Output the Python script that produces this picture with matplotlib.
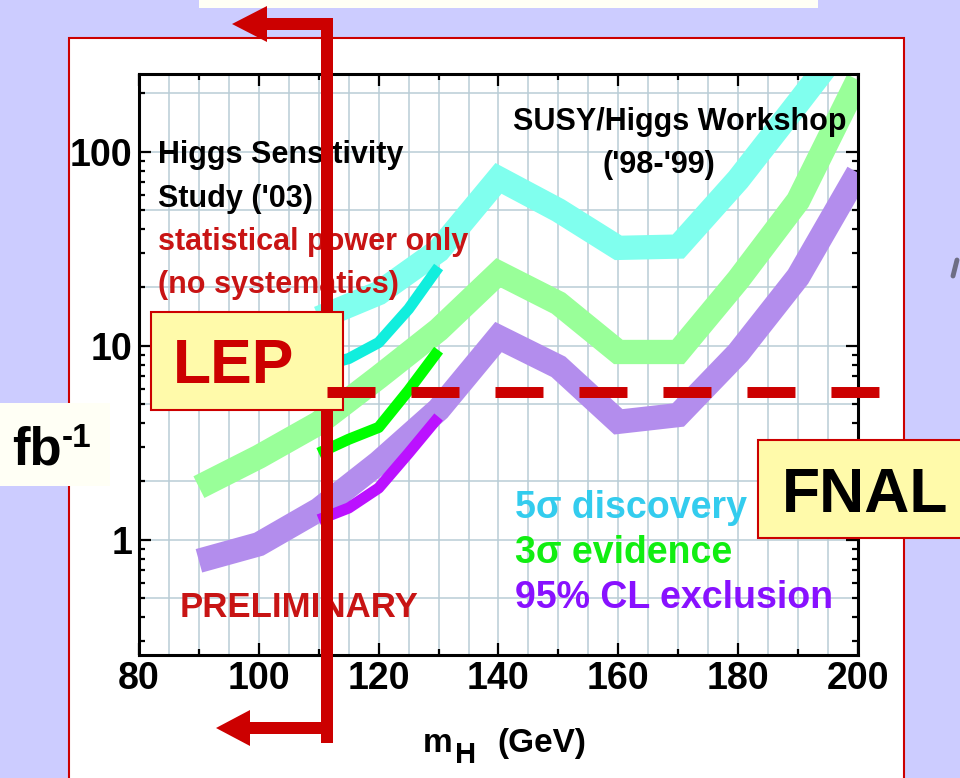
import numpy as np
import matplotlib
matplotlib.use("Agg")
import matplotlib.pyplot as plt
from matplotlib.patches import Rectangle, Polygon
from matplotlib.ticker import MultipleLocator, LogLocator, NullFormatter

plt.rcParams['font.family'] = ['Liberation Sans', 'DejaVu Sans']
plt.rcParams['font.weight'] = 'bold'

# SUSY/Higgs Workshop ('98-'99) luminosity needed, fb^-1
mass_98 = [90, 100, 110, 120, 130, 140, 150, 160, 170, 180, 190, 200]
excl_98 = [0.78, 0.95, 1.43, 2.5, 4.7, 11.1, 7.8, 4.06, 4.4, 9.2, 22.7, 78]
evid_98 = [1.87, 2.68, 4.0, 6.9, 12.1, 23.8, 16.6, 9.3, 9.3, 21.9, 56, 235]
mass_disc_98 = [110, 120, 130, 140, 150, 160, 170, 180, 190, 200]
disc_98 = [13.9, 18.7, 31, 73, 50, 32, 32.5, 72, 179, 450]

# Higgs Sensitivity Study ('03), statistical power only
mass_03 = [110, 115, 120, 125, 130]
disc_03 = [7.8, 8.6, 10.4, 15.5, 25.5]
evid_03 = [2.8, 3.3, 3.8, 5.9, 9.5]
excl_03 = [1.27, 1.46, 1.85, 2.8, 4.3]

x_ticks = [80, 100, 120, 140, 160, 180, 200]
x_labels = ['80', '100', '120', '140', '160', '180', '200']
y_ticks = [1, 10, 100]
y_labels = ['1', '10', '100']
grid_x = np.arange(85, 200, 5)
grid_y = [0.5, 1, 2, 5, 10, 20, 50, 100, 200]

LEP_LIMIT = 111.4   # GeV
FNAL_LUMI = 5.8     # fb^-1

W, H = 960, 778
RED = '#cc0000'

fig = plt.figure(figsize=(W / 100, H / 100), dpi=100)
fig.patch.set_facecolor('#ccccff')

# background panel (pixel coords)
bg = fig.add_axes([0, 0, 1, 1], zorder=0)
bg.set_xlim(0, W)
bg.set_ylim(H, 0)
bg.axis('off')
bg.add_patch(Rectangle((69, 38), 835, 760, facecolor='white', edgecolor=RED, lw=1.5))
bg.add_patch(Rectangle((199, -5), 619, 13, facecolor='#fffff5', edgecolor='none'))
bg.plot([953, 957], [276, 260], color='#555566', lw=3.5, alpha=0.8, solid_capstyle='round')

# main chart
ax = fig.add_axes([139 / W, 1 - 655 / H, 719 / W, (655 - 74) / H], zorder=1)
ax.set_facecolor('white')
ax.set_yscale('log')
ax.set_xlim(80, 200)
ax.set_ylim(0.255, 252)

ax.vlines(grid_x, 0.255, 252, color='#b9cdd6', lw=1.1, zorder=0)
ax.hlines(grid_y, 80, 200, color='#b9cdd6', lw=1.1, zorder=0)

band = dict(lw=17.5, solid_capstyle='butt', solid_joinstyle='miter', zorder=2)
ax.plot(mass_disc_98, disc_98, color='#80ffee', **band)
ax.plot(mass_98, evid_98, color='#99ff99', **band)
ax.plot(mass_98, excl_98, color='#b38ded', **band)

thin = dict(lw=8, solid_capstyle='butt', solid_joinstyle='round', zorder=3)
ax.plot(mass_03, disc_03, color='#11eedd', **thin)
ax.plot(mass_03, evid_03, color='#00ff00', **thin)
ax.plot(mass_03, excl_03, color='#bb11ff', **thin)

ax.set_xticks(x_ticks, x_labels)
ax.xaxis.set_minor_locator(MultipleLocator(10))
ax.set_yticks(y_ticks, y_labels)
ax.yaxis.set_minor_locator(LogLocator(base=10, subs=np.arange(2, 10)))
ax.yaxis.set_minor_formatter(NullFormatter())
ax.tick_params(which='both', direction='in', top=True, right=True, width=1.6, colors='black')
ax.tick_params(which='major', length=8.6)
ax.tick_params(which='minor', length=4.3)
ax.tick_params(axis='x', which='major', labelsize=27, pad=4)
ax.tick_params(axis='y', which='major', labelsize=27, pad=5)
for lab in ax.get_xticklabels() + ax.get_yticklabels():
    lab.set_fontweight('bold')
for sp in ax.spines.values():
    sp.set_linewidth(2.2)
    sp.set_color('black')

# overlay (pixel coords)
ov = fig.add_axes([0, 0, 1, 1], zorder=3)
ov.set_xlim(0, W)
ov.set_ylim(H, 0)
ov.axis('off')
ov.patch.set_alpha(0)

ov.text(158, 163, 'Higgs Sensitivity', fontsize=22, color='black', va='baseline')
ov.text(158, 207, "Study ('03)", fontsize=22, color='black', va='baseline')
ov.text(158, 250, 'statistical power only', fontsize=22, color='#c81414', va='baseline')
ov.text(158, 293, '(no systematics)', fontsize=22, color='#c81414', va='baseline')
ov.text(513, 130, 'SUSY/Higgs Workshop', fontsize=22, color='black', va='baseline')
ov.text(602, 173, "('98-'99)", fontsize=22, color='black', va='baseline')
ov.text(180, 617, 'PRELIMINARY', fontsize=25, color='#c81414', va='baseline')
ov.text(515, 518, '5σ discovery', fontsize=27, color='#33ccee', va='baseline')
ov.text(515, 563, '3σ evidence', fontsize=27, color='#11ee11', va='baseline')
ov.text(515, 608, '95% CL exclusion', fontsize=27, color='#8811ff', va='baseline')

# axis labels
ov.text(423, 752, 'm', fontsize=24, va='baseline')
ov.text(455, 763, 'H', fontsize=21, va='baseline')
ov.text(497, 752, '(GeV)', fontsize=24, va='baseline')

ov.add_patch(Rectangle((-5, 403), 115, 83, facecolor='#fffff5', edgecolor='none', zorder=4))
ov.text(12, 464, 'fb', fontsize=38, va='baseline', zorder=5)
ov.text(62, 447, '-1', fontsize=24, va='baseline', zorder=5)

# LEP / FNAL markers
xd, yd = ax.transData.transform((LEP_LIMIT, FNAL_LUMI))
lx = xd
ly = H - yd
ov.add_patch(Rectangle((lx - 6, 24), 12, 719, facecolor=RED, edgecolor='none', zorder=6))
ov.add_patch(Rectangle((267, 18), lx + 6 - 267, 12, facecolor=RED, edgecolor='none', zorder=6))
ov.add_patch(Polygon([(232, 24), (267, 6), (267, 42)], closed=True, facecolor=RED, edgecolor='none', zorder=6))
ov.add_patch(Rectangle((250, 722), lx + 6 - 250, 12, facecolor=RED, edgecolor='none', zorder=6))
ov.add_patch(Polygon([(216, 728), (250, 710), (250, 746)], closed=True, facecolor=RED, edgecolor='none', zorder=6))

ov.add_patch(Rectangle((151, 312), 192, 98, facecolor='#fffaaa', edgecolor=RED, lw=1.5, zorder=7))
ov.text(173, 383, 'LEP', fontsize=45, color=RED, va='baseline', zorder=8)
ov.plot([lx, 879], [ly, ly], color=RED, lw=7.9, solid_capstyle='butt', dash_capstyle='butt',
        linestyle=(0, (4.375, 3.28)), zorder=9)

ov.add_patch(Rectangle((758, 440), 210, 98, facecolor='#fffaaa', edgecolor=RED, lw=1.5, zorder=10))
ov.text(782, 512, 'FNAL', fontsize=45, color='black', va='baseline', zorder=11)

fig.savefig('out.png', dpi=100, facecolor=fig.get_facecolor())
